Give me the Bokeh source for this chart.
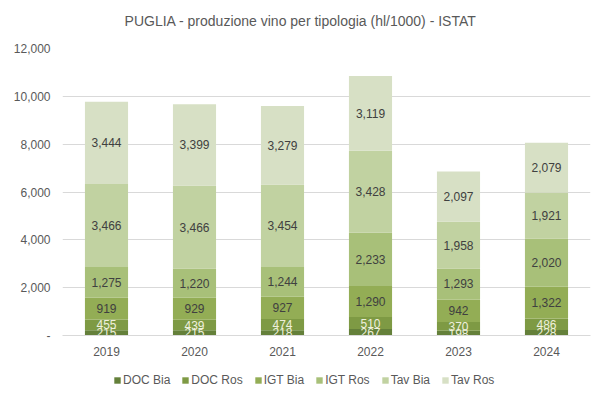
from bokeh.plotting import figure
from bokeh.layouts import column
from bokeh.models import ColumnDataSource, Legend, LegendItem, NumeralTickFormatter
from bokeh.core.properties import value
from bokeh.embed import file_html
from bokeh.resources import INLINE

years = ["2019", "2020", "2021", "2022", "2023", "2024"]
series = ["DOC Bia", "DOC Ros", "IGT Bia", "IGT Ros", "Tav Bia", "Tav Ros"]
doc_bia = [215, 215, 218, 267, 198, 228]
doc_ros = [455, 439, 474, 510, 370, 486]
igt_bia = [919, 929, 927, 1290, 942, 1322]
igt_ros = [1275, 1220, 1244, 2233, 1293, 2020]
tav_bia = [3466, 3466, 3454, 3428, 1958, 1921]
tav_ros = [3444, 3399, 3279, 3119, 2097, 2079]
values_list = [doc_bia, doc_ros, igt_bia, igt_ros, tav_bia, tav_ros]
colors = ["#64803a", "#7e9a44", "#93ad55", "#a8c079", "#c1d2a1", "#d7e0c5"]
label_colors = ["#eef0dc", "#eef0dc", "#404040", "#404040", "#404040", "#404040"]
title_text = "PUGLIA - produzione  vino per tipologia (hl/1000) - ISTAT"

FONT = "Liberation Sans"

data = {"year": years}
for name, vals in zip(series, values_list):
    data[name] = vals
source = ColumnDataSource(data)

# title strip
tf = figure(x_range=(0, 528), y_range=(0, 30), width=596, height=30,
            output_backend="svg", toolbar_location=None,
            x_axis_location=None, y_axis_location=None,
            min_border_left=62, min_border_right=6, min_border_top=0, min_border_bottom=0)
tf.grid.grid_line_color = None
tf.outline_line_color = None
tf.text(x=[240], y=[10], text=[title_text], text_align="center", text_baseline="middle",
        text_font=value(FONT), text_font_size="14px", text_color="#595959")

p = figure(x_range=years, y_range=(0, 12000), width=596, height=335,
           output_backend="svg", toolbar_location=None,
           min_border_left=62, min_border_right=6, min_border_top=18, min_border_bottom=30)

renderers = p.vbar_stack(series, x="year", width=0.49, color=colors, source=source,
                         line_color=None)

# data labels
cum = [0] * len(years)
for vals, lc in zip(values_list, label_colors):
    mids = [c + v / 2 for c, v in zip(cum, vals)]
    texts = [f"{v:,}" for v in vals]
    p.text(x=years, y=mids, text=texts, text_align="center", text_baseline="middle",
           text_font=value(FONT), text_font_size="12px", text_color=lc)
    cum = [c + v for c, v in zip(cum, vals)]

p.outline_line_color = None
p.background_fill_color = "white"
p.xgrid.grid_line_color = None
p.ygrid.grid_line_color = "#d9d9d9"
p.yaxis.ticker = [0, 2000, 4000, 6000, 8000, 10000, 12000]
p.yaxis.formatter = NumeralTickFormatter(format="0,0")
p.yaxis.major_label_overrides = {0: "-"}
p.yaxis.axis_line_color = None
p.yaxis.major_tick_line_color = None
p.yaxis.minor_tick_line_color = None
p.yaxis.major_label_text_font = FONT
p.yaxis.major_label_text_font_size = "12px"
p.yaxis.major_label_text_color = "#595959"
p.yaxis.major_label_standoff = 6

p.xaxis.axis_line_color = "#d9d9d9"
p.xaxis.major_tick_line_color = None
p.xaxis.minor_tick_line_color = None
p.xaxis.major_label_text_font = FONT
p.xaxis.major_label_text_font_size = "12px"
p.xaxis.major_label_text_color = "#595959"
p.xaxis.major_label_standoff = 5
p.x_range.range_padding = 0.0

# legend strip below the chart (zero-height proxy bars, only used for legend swatches)
lf = figure(x_range=(0, 1), y_range=(0, 1), width=596, height=25,
            output_backend="svg", toolbar_location=None,
            x_axis_location=None, y_axis_location=None,
            min_border_left=62, min_border_right=6, min_border_top=0, min_border_bottom=0)
lf.grid.grid_line_color = None
lf.outline_line_color = None
leg_src = ColumnDataSource({"x": [0.5], "top": [0.0]})
items = []
for s, c in zip(series, colors):
    r = lf.vbar(x="x", top="top", bottom=0, width=0.0, color=c, line_color=None, source=leg_src)
    items.append(LegendItem(label=s, renderers=[r]))
legend = Legend(items=items, orientation="horizontal", location=(51, 3),
                glyph_width=8, glyph_height=8, label_standoff=2, spacing=11,
                label_text_font=FONT, label_text_font_size="12px",
                label_text_color="#595959", border_line_color=None,
                background_fill_alpha=0, padding=2, margin=0)
lf.add_layout(legend, "center")

layout = column(tf, p, lf, spacing=0)

open("out.html", "w").write(file_html(layout, INLINE))
